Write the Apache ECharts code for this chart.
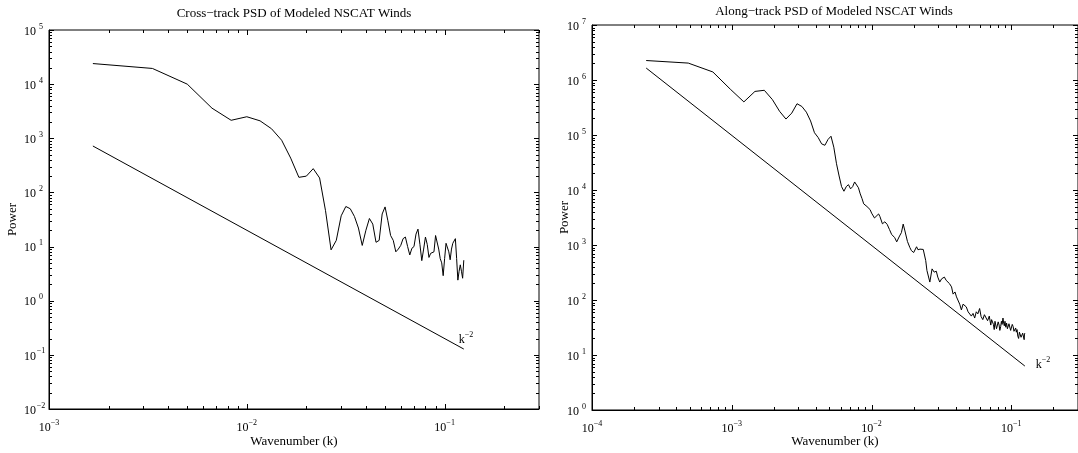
<!DOCTYPE html>
<html>
<head>
<meta charset="utf-8">
<script src="https://cdn.jsdelivr.net/npm/echarts@6/dist/echarts.min.js"></script>
<style>
  html, body { margin: 0; padding: 0; background: #fff; }
  #chart { width: 1078px; height: 453px; }
</style>
</head>
<body>
<div id="chart"></div>
<script>
// Cross-track spectrum: wavenumber index n (k = n / crossLength) and power
const crossLength = 600;
const crossIdx = [1,2,3,4,5,6,7,8,9,10,11,12,13,14,15,16,17,18,19,20,21,22,23,24,25,
  26,27,28,29,30,31,32,33,34,35,36,37,38,39,40,41,42,43,44,45,46,47,48,49,50,
  51,52,53,54,55,56,57,58,59,60,61,62,63,64,65,66,67,68,69,70,71,72,73,74,75];
const crossPower = [24000,19500,10000,3600,2150,2500,2100,1500,920,430,190,200,275,185,46,
  8.7,13,37,55,50,36,22,10.5,20,33,26,12,13,40,54,30,16,13,8,9,10.5,14,15,10,7,
  9.3,10,17,21,11,5.5,9,15,11,6.3,7.5,8,8,16,17,9,6,5,2.9,6,
  11.5,12,8,5.7,9,11.5,12,14,6,2.4,3.5,4.6,3.5,2.6,5.6];

// Along-track spectrum: wavenumber index n (k = n / alongLength) and power
const alongLength = 4096;
const alongIdx = [1,2,3,4,5,6,7,8,9,10,11,12,13,14,15,16,17,18,19,20,21,22,23,24,25,
  26,27,28,29,30,31,32,33,34,35,36,37,38,39,40,41,42,43,44,46,47,49,51,53,55,57,60,62,65,67,
  69,71,74,77,79,82,86,88,91,93,96,100,102,107,111,115,119,122,126,130,136,140,143,148,153,
  157,162,166,171,175,180,185,190,195,201,206,212,218,224,230,236,243,249,256,263,270,277,285,
  292,296,301,305,309,313,317,321,326,330,335,339,344,348,352,357,361,365,369,374,379,384,389,
  394,400,405,410,416,422,428,434,440,445,450,456,462,468,475,481,488,494,501,506,509,512];
const alongPower = [2.26e6,2.03e6,1.40e6,6.8e5,4.0e5,6.2e5,6.5e5,4.4e5,2.7e5,1.95e5,2.5e5,3.7e5,
  3.3e5,2.6e5,1.8e5,1.1e5,9.0e4,6.9e4,6.5e4,8.3e4,9.5e4,6.0e4,3.0e4,1.8e4,1.15e4,
  9500,11500,12500,10500,11500,14000,13000,11000,8500,7000,5600,5800,5000,4850,4400,3800,3600,3100,3000,
  3670,3300,2430,2640,2370,1920,1560,1360,1140,1460,1680,
  2400,1800,1160,900,790,730,929,820,841,787,830,520,344,212,368,321,334,261,212,243,261,228,243,198,173,
  128,140,114,111,84,66,84,89,75,61,66,51,57,47,61,56,70,50,44,54,50,42,51,
  35,44,47,36,29,41,38,30,31,40,35,28,33,41,36,47,38,34,41,32,38,30,31,
  37,35,28,29,36,33,27,25,31,26,29,22,20,26,27,21,20,25,27,19,24,25];

// k^-2 reference lines (end points)
const crossRefK = [1 / 600, 0.125];
const crossRefPower = [720, 0.128];
const alongRefK = [1 / 4096, 0.125];
const alongRefPower = [1.65e6, 6.3];

// Axis ranges
const crossX = [1e-3, 0.3];
const crossY = [1e-2, 1e5];
const alongX = [1e-4, 0.3];
const alongY = [1e0, 1e7];

const FONT = "'Liberation Serif', 'Times New Roman', Times, serif";
const MINUS = '\u2212';

function pairs(xs, ys, scale) {
  return xs.map((x, i) => [x / scale, ys[i]]);
}

function isDecade(v) {
  const e = Math.round(Math.log10(v));
  return Math.abs(v / Math.pow(10, e) - 1) < 1e-6;
}

function powLabel(v) {
  if (!isDecade(v)) return '';
  const e = Math.round(Math.log10(v));
  const s = e < 0 ? MINUS + (-e) : String(e);
  return '{b|10}{e|' + s + '}';
}

// Base text sits at the bottom of a tall line, exponent at its top
const richX = {
  b: { fontFamily: FONT, fontSize: 12, color: '#000', lineHeight: 15, verticalAlign: 'bottom' },
  e: { fontFamily: FONT, fontSize: 8, color: '#000', lineHeight: 8, verticalAlign: 'top' }
};
const richY = {
  b: { fontFamily: FONT, fontSize: 12, color: '#000', lineHeight: 15, verticalAlign: 'bottom' },
  e: { fontFamily: FONT, fontSize: 8, color: '#000', lineHeight: 8, verticalAlign: 'top', width: 10, align: 'left' }
};

// Tick positions: decades and the 2..9 multiples between them
function tickValues(range) {
  const out = [];
  const e0 = Math.round(Math.log10(range[0]));
  const e1 = Math.ceil(Math.log10(range[1]));
  for (let e = e0; e <= e1; e++) {
    for (let m = 1; m <= 9; m++) {
      const v = m * Math.pow(10, e);
      if (v >= range[0] * (1 - 1e-9) && v <= range[1] * (1 + 1e-9)) out.push([v, m === 1 ? 1 : 0]);
    }
  }
  return out;
}

function crisp(p) { return Math.round(p) + 0.5; }

function xTickSeries(gi, xr, yr) {
  return {
    type: 'custom', xAxisIndex: gi, yAxisIndex: gi, silent: true, clip: false, z: 5,
    data: tickValues(xr).map(t => [t[0], yr[0], t[1]]),
    renderItem: function (params, api) {
      const v = api.value(0), len = api.value(2) ? 5 : 3;
      const a = api.coord([v, yr[0]]), b = api.coord([v, yr[1]]);
      const st = { stroke: '#000', lineWidth: 1 };
      return { type: 'group', children: [
        { type: 'line', shape: { x1: crisp(a[0]), y1: a[1], x2: crisp(a[0]), y2: a[1] - len }, style: st },
        { type: 'line', shape: { x1: crisp(b[0]), y1: b[1], x2: crisp(b[0]), y2: b[1] + len }, style: st }
      ]};
    }
  };
}

function yTickSeries(gi, xr, yr) {
  return {
    type: 'custom', xAxisIndex: gi, yAxisIndex: gi, silent: true, clip: false, z: 5,
    data: tickValues(yr).map(t => [xr[0], t[0], t[1]]),
    renderItem: function (params, api) {
      const v = api.value(1), len = api.value(2) ? 5 : 3;
      const a = api.coord([xr[0], v]), b = api.coord([xr[1], v]);
      const st = { stroke: '#000', lineWidth: 1 };
      return { type: 'group', children: [
        { type: 'line', shape: { x1: a[0], y1: crisp(a[1]), x2: a[0] + len, y2: crisp(a[1]) }, style: st },
        { type: 'line', shape: { x1: b[0], y1: crisp(b[1]), x2: b[0] - len, y2: crisp(b[1]) }, style: st }
      ]};
    }
  };
}

function xAxisCfg(gi, range, gap) {
  return {
    type: 'log', gridIndex: gi, min: range[0], max: range[1], logBase: 10,
    name: 'Wavenumber (k)', nameLocation: 'middle', nameGap: gap, nameMoveOverlap: false,
    nameTextStyle: { fontFamily: FONT, fontSize: 13, color: '#000' },
    axisLine: { show: true, onZero: false, lineStyle: { color: '#000', width: 1 } },
    axisTick: { show: false }, splitLine: { show: false }, minorTick: { show: false },
    axisLabel: { show: true, margin: 10, formatter: powLabel, rich: richX, hideOverlap: false,
      showMinLabel: true, showMaxLabel: false }
  };
}

function yAxisCfg(gi, range, gap) {
  return {
    type: 'log', gridIndex: gi, min: range[0], max: range[1], logBase: 10,
    name: 'Power', nameLocation: 'middle', nameGap: gap, nameRotate: 90, nameMoveOverlap: false,
    nameTextStyle: { fontFamily: FONT, fontSize: 13, color: '#000' },
    axisLine: { show: true, onZero: false, lineStyle: { color: '#000', width: 1 } },
    axisTick: { show: false }, splitLine: { show: false }, minorTick: { show: false },
    axisLabel: { show: true, margin: 3, formatter: powLabel, rich: richY, hideOverlap: false,
      showMinLabel: true, showMaxLabel: true }
  };
}

const kLabel = {
  show: true,
  formatter: '{k|k}{e|' + MINUS + '2}',
  rich: {
    k: { fontFamily: FONT, fontSize: 12, color: '#000', lineHeight: 15, verticalAlign: 'bottom' },
    e: { fontFamily: FONT, fontSize: 8, color: '#000', lineHeight: 8, verticalAlign: 'top' }
  }
};

const lineStyle = { color: '#000', width: 1 };
const titleStyle = { fontFamily: FONT, fontSize: 13, fontWeight: 'normal', color: '#000' };

const option = {
  animation: false,
  backgroundColor: '#fff',
  textStyle: { fontFamily: FONT, color: '#000' },
  title: [
    { text: 'Cross' + MINUS + 'track PSD of Modeled NSCAT Winds', left: 294, top: 7, padding: 0,
      textAlign: 'center', textStyle: titleStyle },
    { text: 'Along' + MINUS + 'track PSD of Modeled NSCAT Winds', left: 834, top: 5, padding: 0,
      textAlign: 'center', textStyle: titleStyle }
  ],
  grid: [
    { left: 49, top: 30, width: 490, height: 385, show: true, borderColor: '#000', borderWidth: 1, backgroundColor: 'transparent' },
    { left: 592, top: 25, width: 495, height: 390, show: true, borderColor: '#000', borderWidth: 1, backgroundColor: 'transparent' }
  ],
  xAxis: [xAxisCfg(0, crossX, 26), xAxisCfg(1, alongX, 25)],
  yAxis: [yAxisCfg(0, crossY, 30), yAxisCfg(1, alongY, 21)],
  series: [
    { type: 'line', name: 'cross', xAxisIndex: 0, yAxisIndex: 0, data: pairs(crossIdx, crossPower, crossLength),
      showSymbol: false, symbol: 'none', lineStyle: lineStyle, silent: true },
    { type: 'line', name: 'crossRef', xAxisIndex: 0, yAxisIndex: 0, data: pairs(crossRefK, crossRefPower, 1),
      showSymbol: false, symbol: 'none', lineStyle: lineStyle, silent: true,
      endLabel: Object.assign({ offset: [-13, -11] }, kLabel) },
    { type: 'line', name: 'along', xAxisIndex: 1, yAxisIndex: 1, data: pairs(alongIdx, alongPower, alongLength),
      showSymbol: false, symbol: 'none', lineStyle: lineStyle, silent: true },
    { type: 'line', name: 'alongRef', xAxisIndex: 1, yAxisIndex: 1, data: pairs(alongRefK, alongRefPower, 1),
      showSymbol: false, symbol: 'none', lineStyle: lineStyle, silent: true,
      endLabel: Object.assign({ offset: [3, -3] }, kLabel) },
    xTickSeries(0, crossX, crossY), yTickSeries(0, crossX, crossY),
    xTickSeries(1, alongX, alongY), yTickSeries(1, alongX, alongY)
  ]
};

const chart = echarts.init(document.getElementById('chart'), null, { renderer: 'canvas' });
chart.setOption(option);
</script>
</body>
</html>
